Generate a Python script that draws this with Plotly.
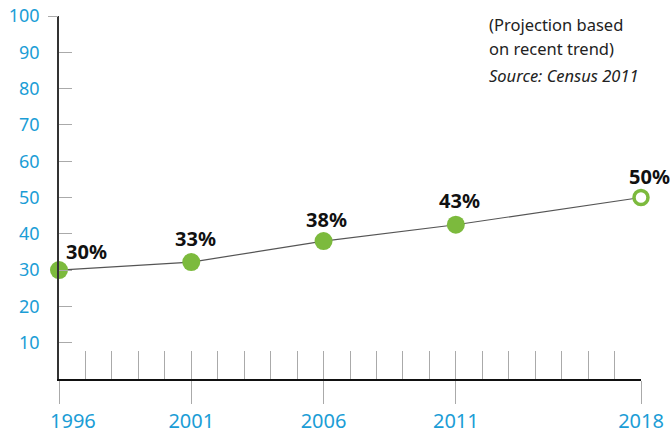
import plotly.graph_objects as go

years = [1996, 2001, 2006, 2011, 2018]
values = [30, 32.2, 38, 42.5, 50]
labels = ["30%", "33%", "38%", "43%", "50%"]
projected = [False, False, False, False, True]
y_ticks = [10, 20, 30, 40, 50, 60, 70, 80, 90, 100]
x_ticks = [1996, 2001, 2006, 2011, 2018]
all_years = list(range(1996, 2019))
note_lines = ["(Projection based", "on recent trend)", "<i>Source: Census 2011</i>"]

GREEN = "#7cba3d"
BLUE = "#1b9dd6"
FONT = "Noto Sans"

W, H = 670, 434
ML, MR, MT, MB = 59, 29, 16, 55

fig = go.Figure()
fig.add_trace(go.Scatter(
    x=years, y=values, mode="lines",
    line=dict(color="#555555", width=1.2),
    hoverinfo="skip", cliponaxis=False, showlegend=False,
))
fig.add_trace(go.Scatter(
    x=years, y=values, mode="markers",
    marker=dict(
        size=[18 if not p else 14 for p in projected],
        color=["white" if p else GREEN for p in projected],
        opacity=1,
        line=dict(color=GREEN, width=[0 if not p else 3.5 for p in projected]),
    ),
    cliponaxis=False, showlegend=False,
))

xshifts = [27, 4, 3, 4, 8]
yshifts = [19, 24, 22, 24, 21]
for yr, v, lab, xs, ys in zip(years, values, labels, xshifts, yshifts):
    fig.add_annotation(
        x=yr, y=v, text="<b>" + lab + "</b>", showarrow=False,
        xshift=xs, yshift=ys, font=dict(family=FONT, size=20, color="#111111"),
    )

plot_w = W - ML - MR
plot_h = H - MT - MB
note_y_px = [24, 48, 75]
for line, ypx in zip(note_lines, note_y_px):
    fig.add_annotation(
        xref="paper", yref="paper",
        x=(487 - ML) / plot_w, y=1 - (ypx - MT) / plot_h,
        xanchor="left", yanchor="middle", align="left",
        text=line, showarrow=False,
        font=dict(family=FONT, size=16.5, color="#222222"),
    )

# first year label sits to the right of its tick (so it is not clipped)
tick_text = ["" if t == x_ticks[0] else str(t) for t in x_ticks]
fig.add_annotation(
    x=x_ticks[0], xref="x", yref="paper", y=0, yanchor="middle",
    yshift=-(420 - (H - MB)), xshift=14,
    text=str(x_ticks[0]), showarrow=False,
    font=dict(family=FONT, size=20, color=BLUE),
)

fig.update_layout(
    width=W, height=H,
    margin=dict(l=ML, r=MR, t=MT, b=MB, autoexpand=False),
    plot_bgcolor="white", paper_bgcolor="white",
    font=dict(family=FONT),
    xaxis=dict(
        range=[1996, 2018], tickvals=x_ticks, ticktext=tick_text,
        ticks="outside", ticklen=23, tickwidth=1.2, tickcolor="#aaaaaa",
        showline=True, linecolor="#111111", linewidth=2,
        showgrid=False, zeroline=False, automargin=False,
        tickfont=dict(family=FONT, size=20, color=BLUE),
    ),
    xaxis2=dict(
        range=[1996, 2018], overlaying="x", anchor="y", side="bottom",
        tickvals=all_years, ticks="inside", ticklen=28, tickwidth=1.2,
        tickcolor="#aaaaaa", showticklabels=False, showgrid=False,
        zeroline=False, showline=False, automargin=False,
    ),
    yaxis=dict(
        range=[0, 100], tickvals=y_ticks, ticks="inside", ticklen=13,
        tickwidth=1.2, tickcolor="#aaaaaa",
        showline=True, linecolor="#333333", linewidth=1.5,
        showgrid=False, zeroline=False, ticklabelstandoff=14, automargin=False,
        tickfont=dict(family=FONT, size=18, color=BLUE),
    ),
    yaxis2=dict(
        range=[0, 100], overlaying="y", anchor="x", side="left",
        tickvals=[100], ticks="outside", ticklen=10, tickwidth=1.2,
        tickcolor="#aaaaaa", showticklabels=False, showgrid=False,
        zeroline=False, showline=False, automargin=False,
    ),
)
fig.add_trace(go.Scatter(x=[None], y=[None], xaxis="x2", yaxis="y2", showlegend=False))

fig.write_html(
    "out.html",
    config={"displayModeBar": False},
    post_script="document.body.style.margin='0';document.body.style.overflow='hidden';",
)
